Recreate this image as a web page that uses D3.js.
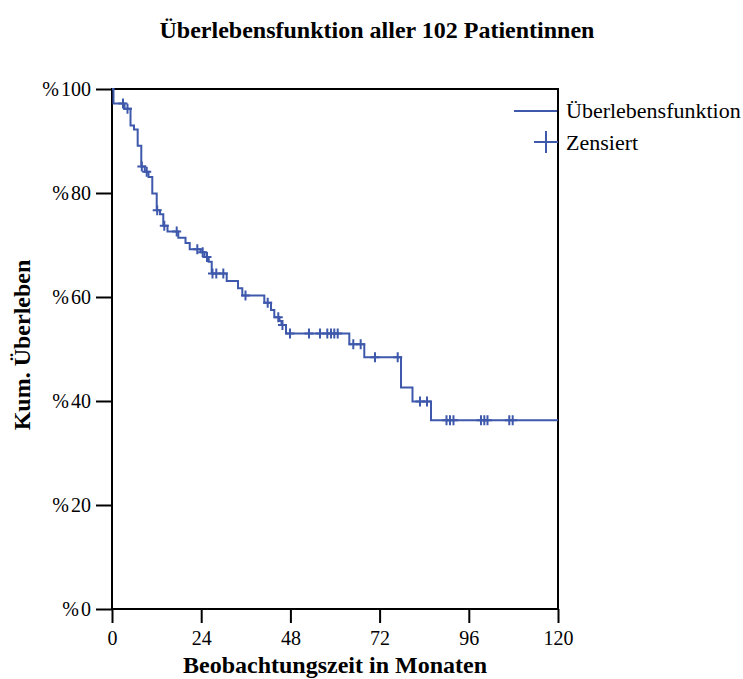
<!DOCTYPE html>
<html>
<head>
<meta charset="utf-8">
<script src="https://cdn.jsdelivr.net/npm/d3@7"></script>
<style>
  body { margin: 0; background: #fff; }
  text { font-family: "Liberation Serif", "Times New Roman", serif; fill: #000; }
  .axis path, .axis line { stroke: #000; stroke-width: 2; }
  .axis text { font-size: 20px; }
  .label { font-weight: bold; font-size: 24px; }
</style>
</head>
<body>
<script>
// Kaplan-Meier steps (months, % survival after the step)
const eventTimes = [0.4, 3.36, 4.98, 5.92, 6.91, 7.88, 8.82, 9.82, 10.84, 12.03,
  12.91, 13.8, 14.93, 17.84, 19.78, 20.91, 23.87, 24.89, 26.02, 26.83,
  30.86, 33.9, 35.06, 40.98, 42.78, 43.67, 45.07, 45.6, 46.82, 63.85,
  67.88, 77.76, 80.85, 85.83];
const survival = [97.2, 96.2, 93.0, 92.2, 89.1, 85.1, 84.1, 83.1, 79.9, 76.7,
  75.9, 73.7, 72.6, 71.4, 70.4, 69.2, 68.6, 67.7, 66.8, 64.5,
  63.1, 61.7, 60.3, 58.9, 57.5, 56.1, 55.4, 54.6, 53.0, 50.9,
  48.4, 42.6, 39.9, 36.3];
// censored cases (months)
const censorTimes = [2.96, 4.17, 8.02, 9.34, 12.16, 14.07, 17.41, 22.95, 24.4, 25.56,
  27.04, 28.06, 29.95, 35.92, 41.89, 44.74, 45.87, 47.89, 53.0, 55.96,
  57.93, 58.92, 59.81, 60.73, 64.92, 66.91, 70.76, 76.87, 82.87, 84.75,
  90.0, 90.94, 91.88, 99.28, 100.17, 101.03, 106.89, 107.81];
const xTicks = [0, 24, 48, 72, 96, 120];
const yTicks = [0, 20, 40, 60, 80, 100];
const legendLabels = ["Überlebensfunktion", "Zensiert"];

const blue = "#3e58ac";
const margin = {top: 89, right: 185, bottom: 70, left: 112};
const W = 743, H = 679;
const width = W - margin.left - margin.right;
const height = H - margin.top - margin.bottom;

const x = d3.scaleLinear().domain([0, 120]).range([0, width]);
const y = d3.scaleLinear().domain([0, 100]).range([height, 0]);

function survivalAt(t) {
  let s = 100;
  eventTimes.forEach((e, i) => { if (e <= t) s = survival[i]; });
  return s;
}

const svg = d3.select("body").append("svg")
    .attr("width", W)
    .attr("height", H);

svg.append("text")
    .attr("class", "label")
    .attr("x", 377)
    .attr("y", 38)
    .style("text-anchor", "middle")
    .text("Überlebensfunktion aller 102 Patientinnen");

const g = svg.append("g")
    .attr("transform", `translate(${margin.left},${margin.top})`);

// frame
g.append("rect")
    .attr("width", width)
    .attr("height", height)
    .attr("fill", "none")
    .attr("stroke", "#000")
    .attr("stroke-width", 2);

g.append("g")
    .attr("class", "x axis")
    .attr("transform", `translate(0,${height})`)
    .call(d3.axisBottom(x).tickValues(xTicks).tickSize(14).tickPadding(8).tickSizeOuter(0));

const yAxis = g.append("g")
    .attr("class", "y axis")
    .call(d3.axisLeft(y).tickValues(yTicks).tickSize(16).tickPadding(5).tickSizeOuter(0)
      .tickFormat(""));

// "%" sits a little apart from the number
const yLab = yAxis.selectAll(".tick text");
yLab.append("tspan").text("%");
yLab.append("tspan").attr("dx", 2).text(d => d);

g.selectAll(".axis .domain").remove();

// survival curve
const pts = [[0, 100]].concat(eventTimes.map((t, i) => [t, survival[i]]));
pts.push([120, survival[survival.length - 1]]);

g.append("path")
    .datum(pts)
    .attr("fill", "none")
    .attr("stroke", blue)
    .attr("stroke-width", 2)
    .attr("d", d3.line().x(d => x(d[0])).y(d => y(d[1])).curve(d3.curveStepAfter));

g.selectAll(".censor").data(censorTimes)
  .enter().append("path")
    .attr("class", "censor")
    .attr("transform", d => `translate(${x(d)},${y(survivalAt(d))})`)
    .attr("d", "M-4.5,0H4.5M0,-5V5")
    .attr("stroke", blue)
    .attr("stroke-width", 2);

// axis titles
svg.append("text")
    .attr("class", "label")
    .attr("x", margin.left + width / 2)
    .attr("y", 673)
    .style("text-anchor", "middle")
    .text("Beobachtungszeit in Monaten");

svg.append("text")
    .attr("class", "label")
    .attr("transform", `translate(30,${margin.top + height / 2 - 4}) rotate(-90)`)
    .style("text-anchor", "middle")
    .text("Kum. Überleben");

// legend
const legend = svg.append("g");
legend.append("line")
    .attr("x1", 514).attr("x2", 557)
    .attr("y1", 111).attr("y2", 111)
    .attr("stroke", blue)
    .attr("stroke-width", 2);
legend.append("path")
    .attr("d", "M534,142H558M546,131V153")
    .attr("stroke", blue)
    .attr("stroke-width", 2);
legend.selectAll(".leg").data(legendLabels)
  .enter().append("text")
    .attr("x", 566)
    .attr("y", (d, i) => 118 + i * 32)
    .style("font-size", "22px")
    .text(d => d);
</script>
</body>
</html>
